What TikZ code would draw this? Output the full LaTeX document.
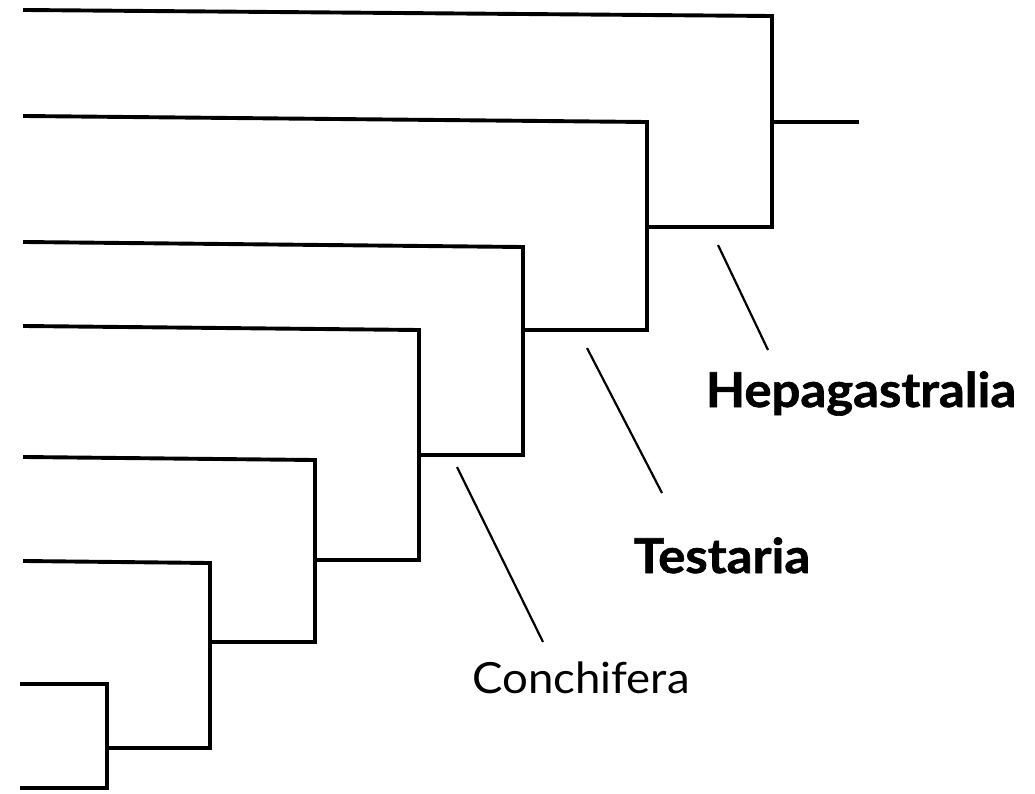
\documentclass[tikz,border=0pt]{standalone}
\usepackage{fontspec}
\setmainfont{Lato}[FakeStretch=1.06,BoldFeatures={FakeBold=1.3}]
\begin{document}
\begin{tikzpicture}[x=1pt,y=-1pt,
  branch/.style={line width=3.9pt,line cap=rect,line join=miter},
  pointer/.style={line width=2.2pt},
  cladebold/.style={font=\fontsize{48}{52}\selectfont\bfseries,anchor=base,inner sep=0pt},
  cladereg/.style={font=\fontsize{43}{48}\selectfont,anchor=base,inner sep=0pt}]
\useasboundingbox (0,0) rectangle (1035,793);
% leaves
\coordinate (l1) at (25,10);
\coordinate (l2) at (25,116);
\coordinate (l3) at (25,242);
\coordinate (l4) at (25,326);
\coordinate (l5) at (25,457);
\coordinate (l6) at (25,561);
\coordinate (l7) at (22,684);
\coordinate (l8) at (22,788);
% corners
\coordinate (a1) at (772,16);  \coordinate (a2) at (772,227);
\coordinate (b1) at (647,122); \coordinate (b2) at (647,330);
\coordinate (c1) at (523,247); \coordinate (c2) at (523,455);
\coordinate (d1) at (419,330); \coordinate (d2) at (419,560);
\coordinate (e1) at (315,460); \coordinate (e2) at (315,642);
\coordinate (f1) at (210,563); \coordinate (f2) at (210,748);
\coordinate (g1) at (107,684); \coordinate (g2) at (107,788);
\coordinate (root) at (772,122);
\coordinate (rootend) at (857,122);
% tree
\draw[branch] (l1) -- (a1) -- (a2) -- (b1 |- a2);
\draw[branch] (l2) -- (b1) -- (b2) -- (c1 |- b2);
\draw[branch] (l3) -- (c1) -- (c2) -- (d1 |- c2);
\draw[branch] (l4) -- (d1) -- (d2) -- (e1 |- d2);
\draw[branch] (l5) -- (e1) -- (e2) -- (f1 |- e2);
\draw[branch] (l6) -- (f1) -- (f2) -- (g1 |- f2);
\draw[branch] (l7) -- (g1) -- (g2) -- (l8);
\draw[branch] (root) -- (rootend);
% labels
\node[cladebold] (hep) at (861,407) {Hepagastralia};
\node[cladebold] (tes) at (722,573) {Testaria};
\node[cladereg] (con) at (581,693) {Conchifera};
\coordinate (hp1) at (718,245); \coordinate (hp2) at (768,350);
\coordinate (tp1) at (587,348); \coordinate (tp2) at (662,493);
\coordinate (cp1) at (457,467); \coordinate (cp2) at (543,642);
\draw[pointer] (hp1) -- (hp2);
\draw[pointer] (tp1) -- (tp2);
\draw[pointer] (cp1) -- (cp2);
\end{tikzpicture}
\end{document}
